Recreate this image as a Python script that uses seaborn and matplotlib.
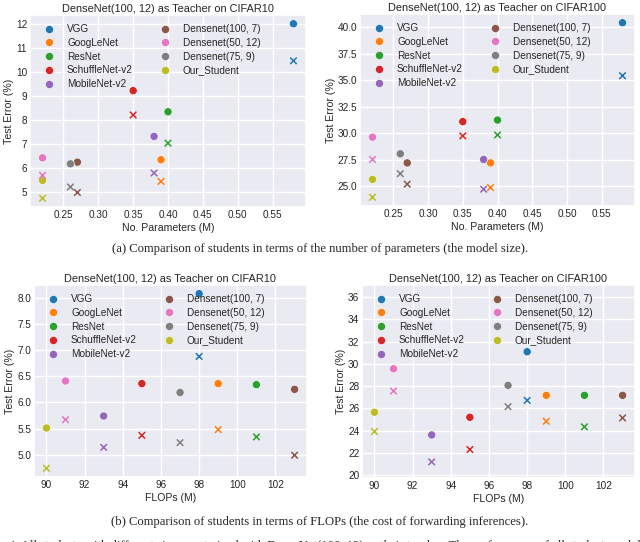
import matplotlib
matplotlib.use("Agg")
import matplotlib.pyplot as plt
import seaborn as sns
import pandas as pd

sns.set_theme(style="darkgrid")
plt.rcParams['font.family'] = ['Liberation Sans', 'DejaVu Sans']

models = ["VGG", "GoogLeNet", "ResNet", "SchuffleNet-v2", "MobileNet-v2",
          "Densenet(100, 7)", "Densenet(50, 12)", "Densenet(75, 9)", "Our_Student"]

params = [0.58, 0.39, 0.40, 0.35, 0.38, 0.27, 0.22, 0.26, 0.22]
flops = [98, 99, 101, 95, 93, 103, 91, 97, 90]

# Params vs error
c10_params_base = [12.00, 6.35, 8.34, 9.22, 7.32, 6.25, 6.43, 6.18, 5.49]
c10_params_kd = [10.46, 5.45, 7.04, 8.21, 5.80, 4.99, 5.70, 5.22, 4.75]
c100_params_base = [40.45, 27.20, 31.25, 31.10, 27.52, 27.20, 29.63, 28.06, 25.64]
c100_params_kd = [35.44, 24.87, 29.84, 29.75, 24.71, 25.19, 27.52, 26.18, 23.95]

# FLOPs vs error
c10_flops_base = [8.08, 6.36, 6.34, 6.36, 5.74, 6.25, 6.41, 6.19, 5.51]
c10_flops_kd = [6.88, 5.48, 5.34, 5.37, 5.14, 4.99, 5.67, 5.23, 4.74]
c100_flops_base = [31.10, 27.18, 27.18, 25.21, 23.62, 27.18, 29.57, 28.08, 25.66]
c100_flops_kd = [26.73, 24.85, 24.35, 22.31, 21.20, 25.15, 27.57, 26.16, 23.93]

titles = ["DenseNet(100, 12) as Teacher on CIFAR10",
          "DenseNet(100, 12) as Teacher on CIFAR100",
          "DenseNet(100, 12) as Teacher on CIFAR10",
          "DenseNet(100, 12) as Teacher on CIFAR100"]
xlabels = ["No. Parameters (M)", "No. Parameters (M)", "FLOPs (M)", "FLOPs (M)"]
ylabel = "Test Error (%)"

captions = ["(a) Comparison of students in terms of the number of parameters (the model size).",
            "(b) Comparison of students in terms of FLOPs (the cost of forwarding inferences)."]
footnote = ("e 4: All students with different sizes are trained with DenseNet(100, 12) as their teacher. "
            "The performance of all students and their baselines")

W, H = 640, 542
fig = plt.figure(figsize=(W / 100, H / 100), dpi=100)
fig.patch.set_facecolor("white")


def box(l, r, t, b):
    return [l / W, 1 - b / H, (r - l) / W, (b - t) / H]


boxes = [box(30, 306, 15, 207), box(360, 635, 14, 206),
         box(34, 307, 285, 477), box(362, 635, 285, 478)]
panels = [(params, c10_params_base, c10_params_kd),
          (params, c100_params_base, c100_params_kd),
          (flops, c10_flops_base, c10_flops_kd),
          (flops, c100_flops_base, c100_flops_kd)]
palette = sns.color_palette("tab10", 9)
fs = 7.2
serif = ["Liberation Serif", "DejaVu Serif"]

for i, (bx, (xs, base, kd)) in enumerate(zip(boxes, panels)):
    ax = fig.add_axes(bx)
    df_b = pd.DataFrame({"x": xs, "y": base, "model": models})
    df_k = pd.DataFrame({"x": xs, "y": kd, "model": models})
    sns.scatterplot(data=df_b, x="x", y="y", hue="model", hue_order=models,
                    palette=palette, marker="o", s=34, edgecolor="white",
                    linewidth=0.4, ax=ax, legend=True)
    sns.scatterplot(data=df_k, x="x", y="y", hue="model", hue_order=models,
                    palette=palette, marker="x", s=22, linewidth=1.1,
                    ax=ax, legend=False)
    ax.set_title(titles[i], fontsize=7.9, pad=2.0)
    ax.set_xlabel(xlabels[i], fontsize=7.6, labelpad=2)
    ax.set_ylabel(ylabel, fontsize=7.6, labelpad=1.5)
    ax.tick_params(labelsize=fs, pad=2, length=0)
    if i in (0, 1):
        ax.set_xticks([0.25, 0.30, 0.35, 0.40, 0.45, 0.50, 0.55])
    if i == 0:
        ax.set_yticks(range(5, 13))
    if i == 3:
        ax.set_ylim(19.75, 37.1)
        ax.set_yticks(range(20, 37, 2))
    ax.legend(loc="upper left", ncol=2, frameon=False, fontsize=fs,
              columnspacing=2.2, handletextpad=0.8, labelspacing=0.38,
              borderaxespad=0.5, markerscale=1.0)

fig.text(0.5, 1 - 249 / H, captions[0], ha="center", va="center",
         fontsize=9.1, family=serif)
fig.text(0.5, 1 - 522 / H, captions[1], ha="center", va="center",
         fontsize=9.1, family=serif)
fig.text(0.0, 1 - 546 / H, footnote, ha="left", va="center",
         fontsize=9.1, family=serif)

fig.savefig("out.png", dpi=100, facecolor="white")
